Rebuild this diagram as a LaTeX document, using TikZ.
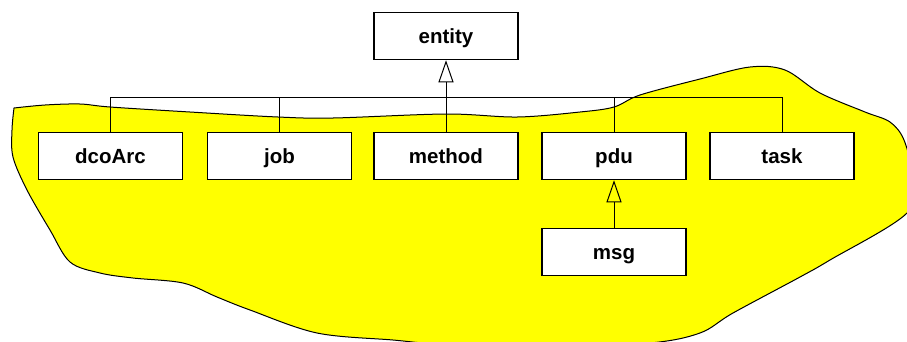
\documentclass[tikz,border=0pt]{standalone}
\usepackage{fontspec}
\setmainfont{Liberation Sans}
\usetikzlibrary{arrows.meta}
\definecolor{blobyellow}{RGB}{255,255,0}
\tikzset{
  classbox/.style={draw=black, fill=white, line width=1.5pt, minimum width=144pt, minimum height=47pt,
    inner sep=0pt, text height=18pt, text depth=4pt, font=\fontsize{20.5}{24}\selectfont\bfseries},
  conn/.style={draw=black, line width=1pt},
  inherit/.style={conn, -{Triangle[open, length=22pt, width=15pt, line width=1pt]}},
  blob/.style={fill=blobyellow, draw=black, line width=1pt}
}
\begin{document}
\begin{tikzpicture}[x=1pt, y=-1pt]
\useasboundingbox (0,0) rectangle (907,341);
\clip (0,0) rectangle (907,341);
\path[blob] plot[smooth, tension=0.55] coordinates {
 (14,108) (45,105) (80,104) (110,107) (190,112) (278,117) (333,118) (446,114)
 (517,117) (580,112) (614,107) (640,95) (700,79) (750,67) (785,70) (820,93)
 (865,112) (890,122) (904,140) (912,175) (907,213) (830,260) (800,277) (733,313)
 (700,333) (650,343) (550,347) (440,344) (393,340) (317,333) (250,310) (217,297)
 (183,283) (133,278) (100,273) (70,262) (50,230) (27,190) (13,157) (12,130) (14,108)
} -- cycle;
\node[classbox] (entity) at (446,36) {entity};
\node[classbox] (dcoArc) at (110.5,156) {dcoArc};
\node[classbox] (job) at (279.5,156) {job};
\node[classbox] (method) at (446,156) {method};
\node[classbox] (pdu) at (614,156) {pdu};
\node[classbox] (task) at (782,156) {task};
\node[classbox] (msg) at (614,252) {msg};
\coordinate (bus) at (446,97);
\draw[conn] (dcoArc.north) -- (dcoArc.north |- bus) -- (task.north |- bus) -- (task.north);
\draw[conn] (job.north) -- (job.north |- bus);
\draw[conn] (method.north) -- (method.north |- bus);
\draw[conn] (pdu.north) -- (pdu.north |- bus);
\draw[inherit] (bus) -- (entity.south);
\draw[inherit] (msg.north) -- (pdu.south);
\end{tikzpicture}
\end{document}
